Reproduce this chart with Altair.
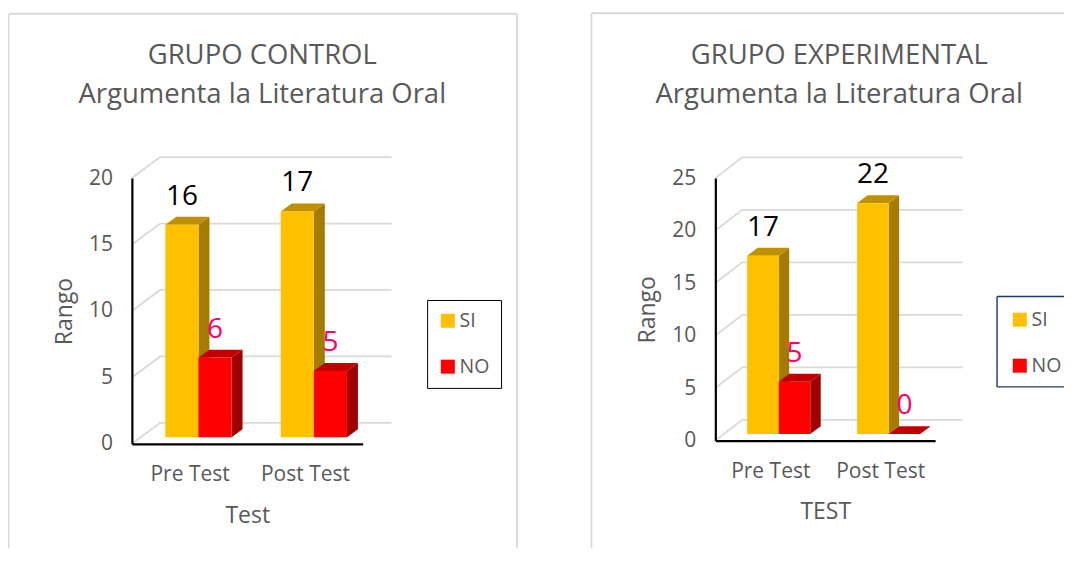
import altair as alt
import pandas as pd

CATEGORIES = ["Pre Test", "Post Test"]
SERIES = ["SI", "NO"]
CONTROL_SI = [16, 17]
CONTROL_NO = [6, 5]
EXPERIMENTAL_SI = [17, 22]
EXPERIMENTAL_NO = [5, 0]

FRONT = {"SI": "#FFC000", "NO": "#FF0000"}
TOP = {"SI": "#BF9000", "NO": "#C00000"}
SIDE = {"SI": "#A67C00", "NO": "#A00000"}
LABEL = {"SI": "#000000", "NO": "#FF0066"}
GREY = "#595959"
FONT = "Open Sans"

BAR_W = 0.287
DX = 0.095
BACK_DX = 0.245
BACK_END = 2.25


def panel(title, si, no, ymax, step, width, height, xtitle, frame, legend_pos, legend_color, legend_padding,
          legend_box, title_dx, title_offset, right_edge):
    base = 0.0245 * ymax
    dy = 0.03 * ymax
    back = 0.079 * ymax
    xs = alt.Scale(domain=[0, 2], nice=False, zero=False)
    ys = alt.Scale(domain=[0, ymax], nice=False, zero=False)
    X = alt.X("x:Q", scale=xs, axis=None)
    Y = alt.Y("y:Q", scale=ys, axis=None)

    grid = []
    for v in range(0, ymax + 1, step):
        grid += [
            {"g": v, "o": 0, "x": 0, "y": v},
            {"g": v, "o": 1, "x": BACK_DX, "y": v + back},
            {"g": v, "o": 2, "x": BACK_END, "y": v + back},
        ]
    grid_layer = alt.Chart(pd.DataFrame(grid)).mark_line(color="#D9D9D9", strokeWidth=1.8).encode(
        x=X, y=Y, detail="g:N", order="o:Q",
    )

    legend_args = dict(
        title=None, orient="none", legendX=legend_pos[0], legendY=legend_pos[1],
        padding=legend_padding, symbolType="square", symbolSize=196,
        symbolStrokeWidth=0, labelFont=FONT, labelFontSize=19.5, labelColor=GREY,
        labelOffset=2, rowPadding=25, values=SERIES)
    if legend_box is None:
        legend_args["strokeColor"] = legend_color

    layers = [grid_layer]
    for s, vals, off in (("SI", si, 0.29), ("NO", no, 0.29 + BAR_W)):
        side, top, front = [], [], []
        for i, (c, v) in enumerate(zip(CATEGORIES, vals)):
            x0 = i + off
            x1 = x0 + BAR_W
            yb = v + base
            if v > 0:
                side += [
                    {"g": c, "x": x1, "y": base, "y2": yb},
                    {"g": c, "x": x1 + DX, "y": base + dy, "y2": yb + dy},
                ]
            top += [
                {"g": c, "x": x0, "y": yb, "y2": yb},
                {"g": c, "x": x0 + DX, "y": yb + dy, "y2": yb},
                {"g": c, "x": x1, "y": yb + dy, "y2": yb},
                {"g": c, "x": x1 + DX, "y": yb + dy, "y2": yb + dy},
            ]
            front.append({"serie": s, "x": x0, "x2": x1, "y": base, "y2": yb})
        layers.append(alt.Chart(pd.DataFrame(side)).mark_area(color=SIDE[s]).encode(
            x=X, y=Y, y2="y2:Q", detail="g:N"))
        layers.append(alt.Chart(pd.DataFrame(top)).mark_area(color=TOP[s]).encode(
            x=X, y=Y, y2="y2:Q", detail="g:N"))
        layers.append(alt.Chart(pd.DataFrame(front)).mark_rect().encode(
            x=X, x2="x2:Q", y=Y, y2="y2:Q",
            color=alt.Color("serie:N", scale=alt.Scale(domain=SERIES, range=[FRONT[k] for k in SERIES]),
                            legend=alt.Legend(**legend_args)),
        ))
    for s, vals, off in (("SI", si, 0.29), ("NO", no, 0.29 + BAR_W)):
        text = [{"x": i + off + BAR_W / 2, "y": v + base, "t": str(v)} for i, v in enumerate(vals)]
        layers.append(alt.Chart(pd.DataFrame(text)).mark_text(
            font=FONT, fontSize=28, color=LABEL[s], baseline="middle", dy=-28).encode(
            x=X, y=Y, text="t:N"))

    axis_df = pd.DataFrame({"x": [0.0, 2.0], "y": [0.0, float(ymax)]})
    layers.append(alt.Chart(axis_df).mark_point(opacity=0).encode(
        x=alt.X("x:Q", scale=xs, axis=alt.Axis(
            values=[0.5, 1.5], grid=False, ticks=False, domainColor="black", domainWidth=2.2,
            labelExpr=f"datum.value < 1 ? '{CATEGORIES[0]}' : '{CATEGORIES[1]}'",
            labelFont=FONT, labelFontSize=21, labelColor=GREY, labelPadding=19.5, labelAngle=0,
            title=xtitle, titleFont=FONT, titleFontSize=23, titleColor=GREY, titleFontWeight="normal",
            titlePadding=20, zindex=1)),
        y=alt.Y("y:Q", scale=ys, axis=alt.Axis(
            values=list(range(0, ymax + 1, step)), grid=False, ticks=False, domainColor="black", domainWidth=2.2,
            labelFont=FONT, labelFontSize=21, labelColor=GREY, labelPadding=19.5,
            title="Rango", titleFont=FONT, titleFontSize=23, titleColor=GREY, titleFontWeight="normal",
            titlePadding=12, zindex=1)),
    ))

    fl, fr, ft, fb = frame
    base_rule = alt.Chart(pd.DataFrame({"a": [0]})).mark_rule(color="#D9D9D9", strokeWidth=1.8)
    layers.append(base_rule.encode(x=alt.value(fl), y=alt.value(ft), y2=alt.value(fb)))
    layers.append(base_rule.encode(x=alt.value(fl), x2=alt.value(fr), y=alt.value(ft)))
    if right_edge:
        layers.append(base_rule.encode(x=alt.value(fr), y=alt.value(ft), y2=alt.value(fb)))

    if legend_box is not None:
        bl, br, bt, bb = legend_box
        box_rule = alt.Chart(pd.DataFrame({"a": [0]})).mark_rule(color=legend_color, strokeWidth=1.4)
        layers.append(box_rule.encode(x=alt.value(bl), y=alt.value(bt), y2=alt.value(bb)))
        layers.append(box_rule.encode(x=alt.value(bl), x2=alt.value(br), y=alt.value(bt)))
        layers.append(box_rule.encode(x=alt.value(bl), x2=alt.value(br), y=alt.value(bb)))

    return alt.layer(*layers).resolve_axis(x="independent", y="independent").properties(
        width=width, height=height,
        title=alt.TitleParams(title, font=FONT, fontSize=27.5, fontWeight="normal", color=GREY,
                              anchor="middle", offset=title_offset, dx=title_dx, lineHeight=39),
    )


left = panel(["GRUPO CONTROL", "Argumenta la Literatura Oral"], CONTROL_SI, CONTROL_NO, 20, 5, 231, 266,
             "Test", (-123.5, 385.5, -164.5, 370.5), (295.5, 122), "black", 11, None, 15, -96, True)
right = panel(["GRUPO EXPERIMENTAL", "Argumenta la Literatura Oral"], EXPERIMENTAL_SI, EXPERIMENTAL_NO, 25, 5, 220, 262.7,
              "TEST", (-124, 349, -165, 370), (290, 127), "#1F3864", 5, (282, 349, 118.5, 209), 14, -96, False)

chart = alt.hconcat(left, right, spacing=72, padding={"left": -1, "top": 4, "right": 0, "bottom": 0}).resolve_scale(
    color="independent"
).configure(background="white", view=alt.ViewConfig(stroke=None))

chart.save("out.html", embed_options={"renderer": "svg", "actions": False})
